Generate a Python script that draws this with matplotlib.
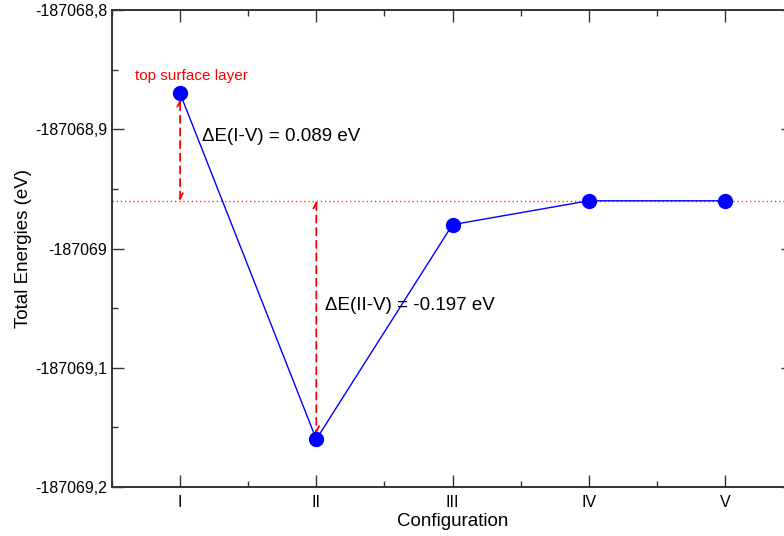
import matplotlib
matplotlib.use("Agg")
import matplotlib.pyplot as plt
from matplotlib.ticker import MultipleLocator, FuncFormatter

configs = ["I", "II", "III", "IV", "V"]
energies = [-187068.870, -187069.160, -187068.980, -187068.960, -187068.960]
ref_level = -187068.960
dE_labels = ["\u0394E(I-V) = 0.089 eV", "\u0394E(II-V) = -0.197 eV"]

plt.rcParams['font.family'] = ['Liberation Sans', 'DejaVu Sans']

fig = plt.figure(figsize=(7.84, 5.36), dpi=100)
ax = fig.add_axes([112/784, 49/536, (793-112)/784, (487-10)/536])

x = list(range(1, len(configs) + 1))
ax.plot(x, energies, color='blue', lw=1.0, marker='o', markersize=10,
        markerfacecolor='blue', markeredgecolor='blue', zorder=3)

ax.axhline(ref_level, color='#ff3333', lw=1.0, ls=(0, (1, 2)), zorder=1)

for xi, yi in [(1, energies[0]), (2, energies[1])]:
    ax.annotate('', xy=(xi, yi), xytext=(xi, ref_level),
                arrowprops=dict(arrowstyle='<->', color='red', lw=1.3,
                                ls=(0, (4, 3)), shrinkA=0, shrinkB=4,
                                mutation_scale=10), zorder=2)

ax.text(1.16, -187068.9057, dE_labels[0], fontsize=13.5, va='center', ha='left')
ax.text(2.066, -187069.0474, dE_labels[1], fontsize=13.5, va='center', ha='left')
ax.text(1.08, -187068.8615, "top surface layer", fontsize=11, color='red',
        va='bottom', ha='center')


def fmt(v, p):
    s = f"{v:.1f}"
    if s.endswith(".0"):
        return s[:-2]
    return s.replace('.', ',')


ax.set_xlim(0.5, 5.5)
ax.set_ylim(-187069.2, -187068.8)
ax.set_xticks(x)
ax.set_xticklabels(configs)
ax.xaxis.set_minor_locator(MultipleLocator(0.5))
ax.yaxis.set_major_locator(MultipleLocator(0.1))
ax.yaxis.set_minor_locator(MultipleLocator(0.05))
ax.yaxis.set_major_formatter(FuncFormatter(fmt))
ax.tick_params(which='both', direction='in', top=True, right=True, labelsize=11.5,
               color='#333333')
ax.tick_params(which='major', length=8.5, width=1.0)
ax.tick_params(which='minor', length=4.5, width=1.0)
ax.tick_params(axis='x', which='major', pad=6)
ax.tick_params(axis='y', which='major', pad=3.5)
for s in ax.spines.values():
    s.set_linewidth(1.4)
    s.set_color('#333333')

ax.set_xlabel("Configuration", fontsize=13.5, labelpad=2)
ax.set_ylabel("Total Energies (eV)", fontsize=13.5, labelpad=2)

fig.savefig("out.png", dpi=100)
